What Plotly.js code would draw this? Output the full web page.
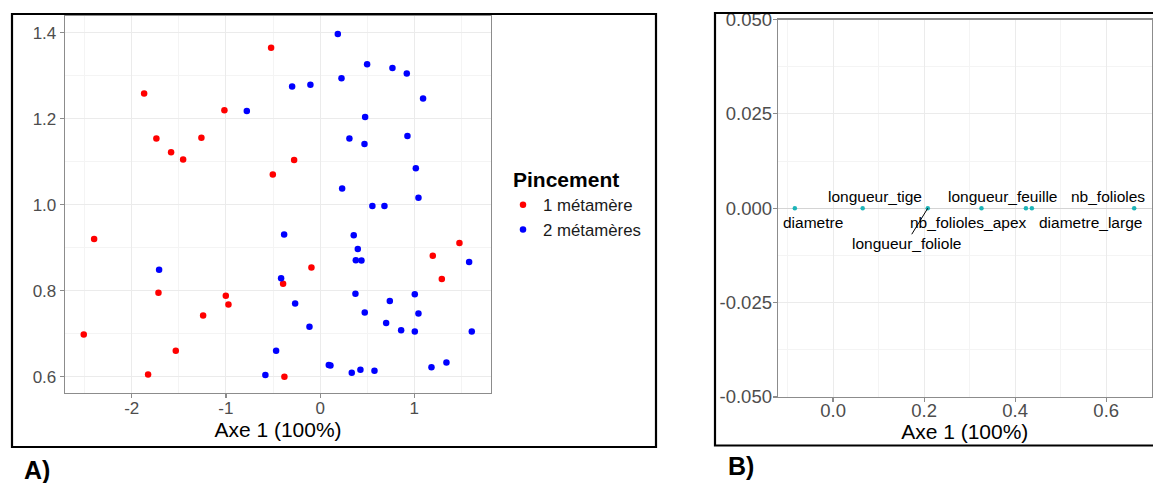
<!DOCTYPE html>
<html>
<head>
<meta charset="utf-8">
<script src="https://cdn.plot.ly/plotly-3.0.1.min.js"></script>
<style>html,body{margin:0;padding:0;background:#fff;}#chart{width:1153px;height:483px;}</style>
</head>
<body>
<div id="chart"></div>
<script>
// ---- Panel A data: individuals on Axe 1 (x) vs value (y) ----
const groupNames = ["1 métamère", "2 métamères"];
const redX = [-0.52, -1.868, -1.738, -1.582, -1.454, -1.26, -1.016, -0.502, -0.276, -2.399, -1.716, -1.001, -0.973, -1.242, -2.509, -1.532, -1.826, -0.393, -0.092, -0.379, 1.479, 1.196, 1.292];
const redY = [1.365, 1.259, 1.154, 1.122, 1.105, 1.156, 1.220, 1.070, 1.104, 0.920, 0.795, 0.788, 0.768, 0.742, 0.698, 0.660, 0.605, 0.816, 0.854, 0.600, 0.911, 0.881, 0.827];
const blueX = [0.188, 0.499, 0.768, 0.920, 0.227, -0.103, -0.297, -0.778, 1.093, 0.478, 0.311, 0.471, 0.927, 1.016, 0.234, 0.555, 0.683, 1.044, 0.357, 0.400, 0.379, 0.439, -0.382, -1.709, 1.582, -0.414, 0.375, 1.005, 0.740, -0.265, 0.474, 1.044, 0.701, -0.113, 0.860, 1.005, 1.610, -0.467, 0.092, 0.110, -0.581, 0.336, 0.428, 0.577, 1.182, 1.341];
const blueY = [1.397, 1.327, 1.318, 1.305, 1.294, 1.279, 1.275, 1.218, 1.247, 1.204, 1.154, 1.141, 1.160, 1.085, 1.038, 0.997, 0.997, 1.016, 0.929, 0.897, 0.871, 0.870, 0.931, 0.849, 0.867, 0.829, 0.793, 0.792, 0.776, 0.770, 0.749, 0.747, 0.725, 0.716, 0.708, 0.705, 0.705, 0.660, 0.627, 0.626, 0.604, 0.609, 0.616, 0.614, 0.622, 0.633];
const aXTickVals = [-2, -1, 0, 1];
const aXTickText = ["-2", "-1", "0", "1"];
const aYTickVals = [0.6, 0.8, 1.0, 1.2, 1.4];
const aYTickText = ["0.6", "0.8", "1.0", "1.2", "1.4"];

// ---- Panel B data: variables on Axe 1 ----
const varNames = ["diametre", "longueur_tige", "longueur_foliole", "nb_folioles_apex", "longueur_feuille", "diametre_large", "nb_folioles"];
const varX = [-0.084, 0.065, 0.208, 0.326, 0.4236, 0.4367, 0.6615];
const varY = [0, 0, 0, 0, 0, 0, 0];
const bXTickVals = [0.0, 0.2, 0.4, 0.6];
const bXTickText = ["0.0", "0.2", "0.4", "0.6"];
const bYTickVals = [-0.05, -0.025, 0, 0.025, 0.05];
const bYTickText = ["-0.050", "-0.025", "0.000", "0.025", "0.050"];

// label placement (pixel offsets from each point), styling only
const labelShift = [
  {dx: 18, dy: -14}, {dx: 12, dy: 12}, {dx: -21, dy: -35, leader: true}, {dx: -13, dy: -14},
  {dx: -23, dy: 12}, {dx: 59, dy: -14}, {dx: -26, dy: 12}
];

const W = 1153, H = 483;
const px = v => v / W, py = v => 1 - v / H;
const FONT = "Liberation Sans, Arial, sans-serif";
const GRID = "#ebebeb", MINOR = "#f4f4f4", BORDER = "#8c8c8c", TICKC = "#4d4d4d";

const traces = [
  {x: redX, y: redY, type: "scatter", mode: "markers", name: groupNames[0],
   marker: {color: "#ff0000", size: 6.5}, xaxis: "x", yaxis: "y"},
  {x: blueX, y: blueY, type: "scatter", mode: "markers", name: groupNames[1],
   marker: {color: "#0000ff", size: 6.5}, xaxis: "x", yaxis: "y"},
  {x: varX, y: varY, type: "scatter", mode: "markers", name: "variables", showlegend: false,
   marker: {color: "#1db4b8", size: 4.5}, xaxis: "x2", yaxis: "y2"}
];

function axisBase(extra) {
  return Object.assign({
    showline: true, mirror: true, linecolor: BORDER, linewidth: 1.3,
    ticks: "outside", ticklen: 4, tickcolor: BORDER, tickwidth: 1.2,
    showgrid: true, gridcolor: GRID, gridwidth: 1, zeroline: false,
    tickmode: "array", fixedrange: true
  }, extra);
}

const annotations = [];
const shapes = [
  {type: "rect", xref: "paper", yref: "paper", x0: px(12), x1: px(656), y0: py(447), y1: py(14),
   line: {color: "#000", width: 2.2}, fillcolor: "rgba(0,0,0,0)", layer: "above"},
  {type: "rect", xref: "paper", yref: "paper", x0: px(715), x1: px(1160), y0: py(445.5), y1: py(13),
   line: {color: "#000", width: 2.2}, fillcolor: "rgba(0,0,0,0)", layer: "above"}
];
varNames.forEach((nm, i) => {
  const s = labelShift[i];
  annotations.push({xref: "x2", yref: "y2", x: varX[i], y: varY[i], text: nm, showarrow: false,
    xshift: s.dx, yshift: s.dy, font: {family: FONT, size: 15.5, color: "#000"}});
  if (s.leader) {
    // ggrepel-style leader segment from the point towards its label (pixel offsets)
    shapes.push({type: "line", xref: "x2", yref: "y2", xsizemode: "pixel", ysizemode: "pixel",
      xanchor: varX[i], yanchor: varY[i], x0: 0, y0: 0, x1: -16, y1: -26,
      line: {color: "#000", width: 1}, layer: "above"});
  }
});
annotations.push({xref: "paper", yref: "paper", x: px(37), y: py(470), xanchor: "center", yanchor: "middle",
  text: "<b>A)</b>", showarrow: false, font: {family: FONT, size: 25, color: "#000"}});
annotations.push({xref: "paper", yref: "paper", x: px(741), y: py(466), xanchor: "center", yanchor: "middle",
  text: "<b>B)</b>", showarrow: false, font: {family: FONT, size: 25, color: "#000"}});

const layout = {
  width: W, height: H,
  margin: {l: 0, r: 0, t: 0, b: 0},
  paper_bgcolor: "#fff", plot_bgcolor: "#fff",
  font: {family: FONT, color: TICKC},
  showlegend: true,
  legend: {
    x: px(511), y: py(160), xanchor: "left", yanchor: "top",
    indentation: -8,
    title: {text: "<b>Pincement</b>", font: {family: FONT, size: 21, color: "#000"}},
    font: {family: FONT, size: 16.8, color: "#1a1a1a"},
    bgcolor: "rgba(0,0,0,0)", itemclick: false
  },
  xaxis: axisBase({
    domain: [px(65), px(491)], range: [-2.708, 1.814], anchor: "y",
    tickvals: aXTickVals, ticktext: aXTickText, ticklabelstandoff: -5,
    tickfont: {family: FONT, size: 17, color: TICKC},
    minor: {dtick: 0.5, showgrid: true, gridcolor: MINOR, gridwidth: 1, tick0: 0.5},
    title: {text: "Axe 1 (100%)", font: {family: FONT, size: 21, color: "#000"}, standoff: 4}
  }),
  yaxis: axisBase({
    domain: [py(393), py(16)], range: [0.562, 1.439], anchor: "x",
    tickvals: aYTickVals, ticktext: aYTickText,
    tickfont: {family: FONT, size: 17, color: TICKC},
    minor: {dtick: 0.1, showgrid: true, gridcolor: MINOR, gridwidth: 1, tick0: 0.5}
  }),
  xaxis2: axisBase({
    domain: [px(778), px(1151.5)], range: [-0.121, 0.6995], anchor: "y2",
    tickvals: bXTickVals, ticktext: bXTickText, ticklabelstandoff: -8,
    tickfont: {family: FONT, size: 18.5, color: TICKC},
    minor: {dtick: 0.1, showgrid: true, gridcolor: MINOR, gridwidth: 1, tick0: 0.1},
    title: {text: "Axe 1 (100%)", font: {family: FONT, size: 21, color: "#000"}, standoff: 4}
  }),
  yaxis2: axisBase({
    domain: [py(397), py(19.5)], range: [-0.05, 0.05], anchor: "x2",
    tickvals: bYTickVals, ticktext: bYTickText, ticklabelstandoff: -3,
    tickfont: {family: FONT, size: 18.5, color: TICKC},
    minor: {dtick: 0.0125, showgrid: true, gridcolor: MINOR, gridwidth: 1, tick0: 0.0125},
    zeroline: true, zerolinecolor: "#d4d4d4", zerolinewidth: 1.2
  }),
  shapes: shapes,
  annotations: annotations
};

Plotly.newPlot("chart", traces, layout, {staticPlot: true, displayModeBar: false});
</script>
</body>
</html>
